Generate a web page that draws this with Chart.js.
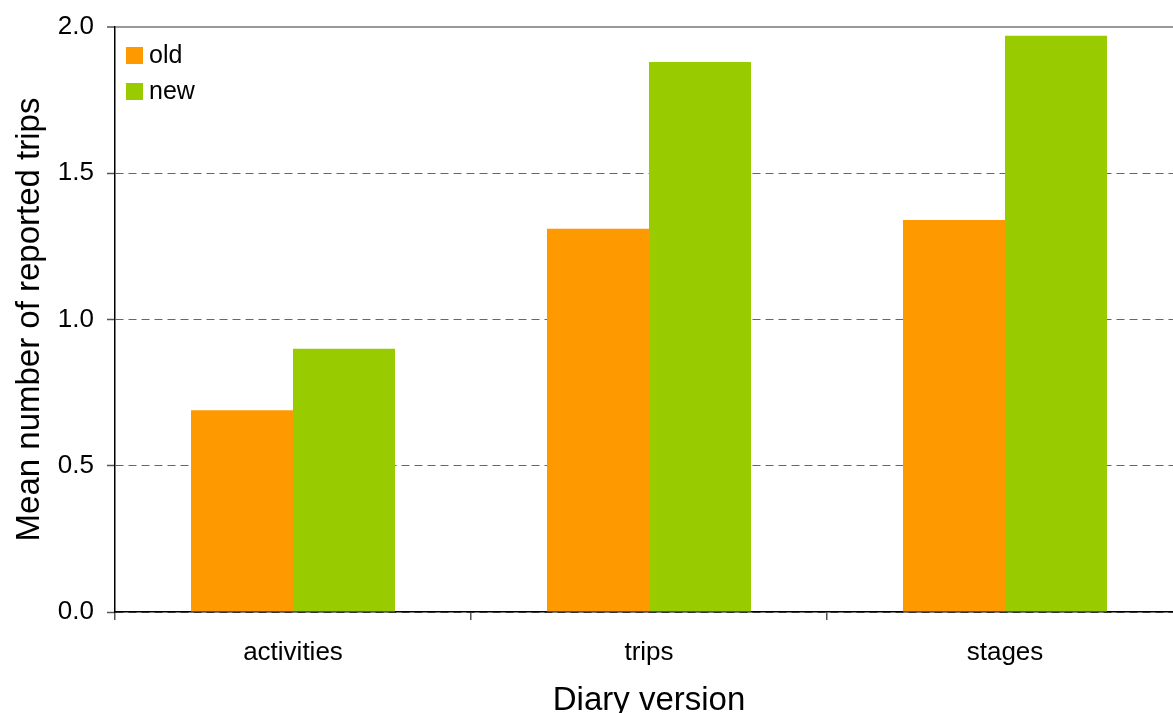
<!DOCTYPE html>
<html>
<head>
<meta charset="utf-8">
<script src="https://cdn.jsdelivr.net/npm/chart.js@4/dist/chart.umd.min.js"></script>
<style>
  html, body { margin: 0; padding: 0; background: #fff; overflow: hidden; }
  #wrap { width: 1173px; height: 713px; overflow: hidden; }
  #c { display: block; }
</style>
</head>
<body>
<div id="wrap"><canvas id="c" width="1183" height="713"></canvas></div>
<script>
// Diary versions on the x axis
const categories = ['activities', 'trips', 'stages'];
// Mean number of reported trips per diary version
const oldValues = [0.69, 1.31, 1.34];
const newValues = [0.90, 1.88, 1.97];
const seriesLabels = ['old', 'new'];
const yTicks = [0.0, 0.5, 1.0, 1.5, 2.0];

const FONT = '"Liberation Sans", Arial, Helvetica, sans-serif';

// Legend drawn inside the top-left corner of the plot area
const innerLegend = {
  id: 'innerLegend',
  afterDraw(chart) {
    const ctx = chart.ctx;
    const area = chart.chartArea;
    ctx.save();
    ctx.font = '25px ' + FONT;
    ctx.textBaseline = 'middle';
    ctx.textAlign = 'left';
    chart.data.datasets.forEach((ds, i) => {
      const cy = area.top + 28 + i * 36;
      ctx.fillStyle = ds.backgroundColor;
      ctx.fillRect(area.left + 11, cy - 8, 17, 17);
      ctx.fillStyle = '#000';
      ctx.fillText(ds.label, area.left + 34, cy + 1);
    });
    ctx.restore();
  }
};

new Chart(document.getElementById('c'), {
  type: 'bar',
  data: {
    labels: categories,
    datasets: [
      { label: seriesLabels[0], data: oldValues, backgroundColor: '#FF9900' },
      { label: seriesLabels[1], data: newValues, backgroundColor: '#99CC00' }
    ]
  },
  plugins: [innerLegend],
  options: {
    responsive: false,
    animation: false,
    layout: { padding: { top: 27, right: 0, left: 0, bottom: 0 } },
    datasets: {
      bar: { categoryPercentage: 0.573, barPercentage: 1.0, borderWidth: 0 }
    },
    plugins: {
      legend: { display: false },
      tooltip: { enabled: false }
    },
    scales: {
      x: {
        z: 1,
        offset: true,
        grid: {
          display: true,
          offset: true,
          drawOnChartArea: false,
          drawTicks: true,
          tickLength: 8,
          color: '#555',
          tickColor: '#555',
          lineWidth: 1.5
        },
        border: { display: true, color: '#000', width: 1.5 },
        ticks: {
          color: '#000',
          font: { family: FONT, size: 26 },
          padding: 17,
          maxRotation: 0
        },
        title: {
          display: true,
          text: 'Diary version',
          color: '#000',
          font: { family: FONT, size: 33 },
          padding: { top: 0, bottom: -8 }
        },
        afterFit(scale) { scale.height = 101; }
      },
      y: {
        min: 0,
        max: 2,
        afterBuildTicks(scale) {
          scale.ticks = yTicks.map(v => ({ value: v }));
        },
        grid: {
          display: true,
          drawTicks: true,
          tickLength: 8,
          color: ctx => (ctx.tick && ctx.tick.value === 2 ? '#999' : '#666'),
          lineWidth: ctx => (ctx.tick && ctx.tick.value === 2 ? 2 : 1),
          tickColor: '#555',
          tickWidth: 1.5
        },
        border: {
          display: true,
          color: '#000',
          width: 1.5,
          dash: ctx => (ctx.tick && ctx.tick.value === 2 ? [] : [8, 5])
        },
        ticks: {
          color: '#000',
          font: { family: FONT, size: 26, lineHeight: 1 },
          padding: 13,
          callback: v => Number(v).toFixed(1)
        },
        title: {
          display: true,
          text: 'Mean number of reported trips',
          color: '#000',
          font: { family: FONT, size: 33 },
          padding: { top: 10, bottom: 0 }
        },
        afterFit(scale) { scale.width = 115; }
      }
    }
  }
});
</script>
</body>
</html>
